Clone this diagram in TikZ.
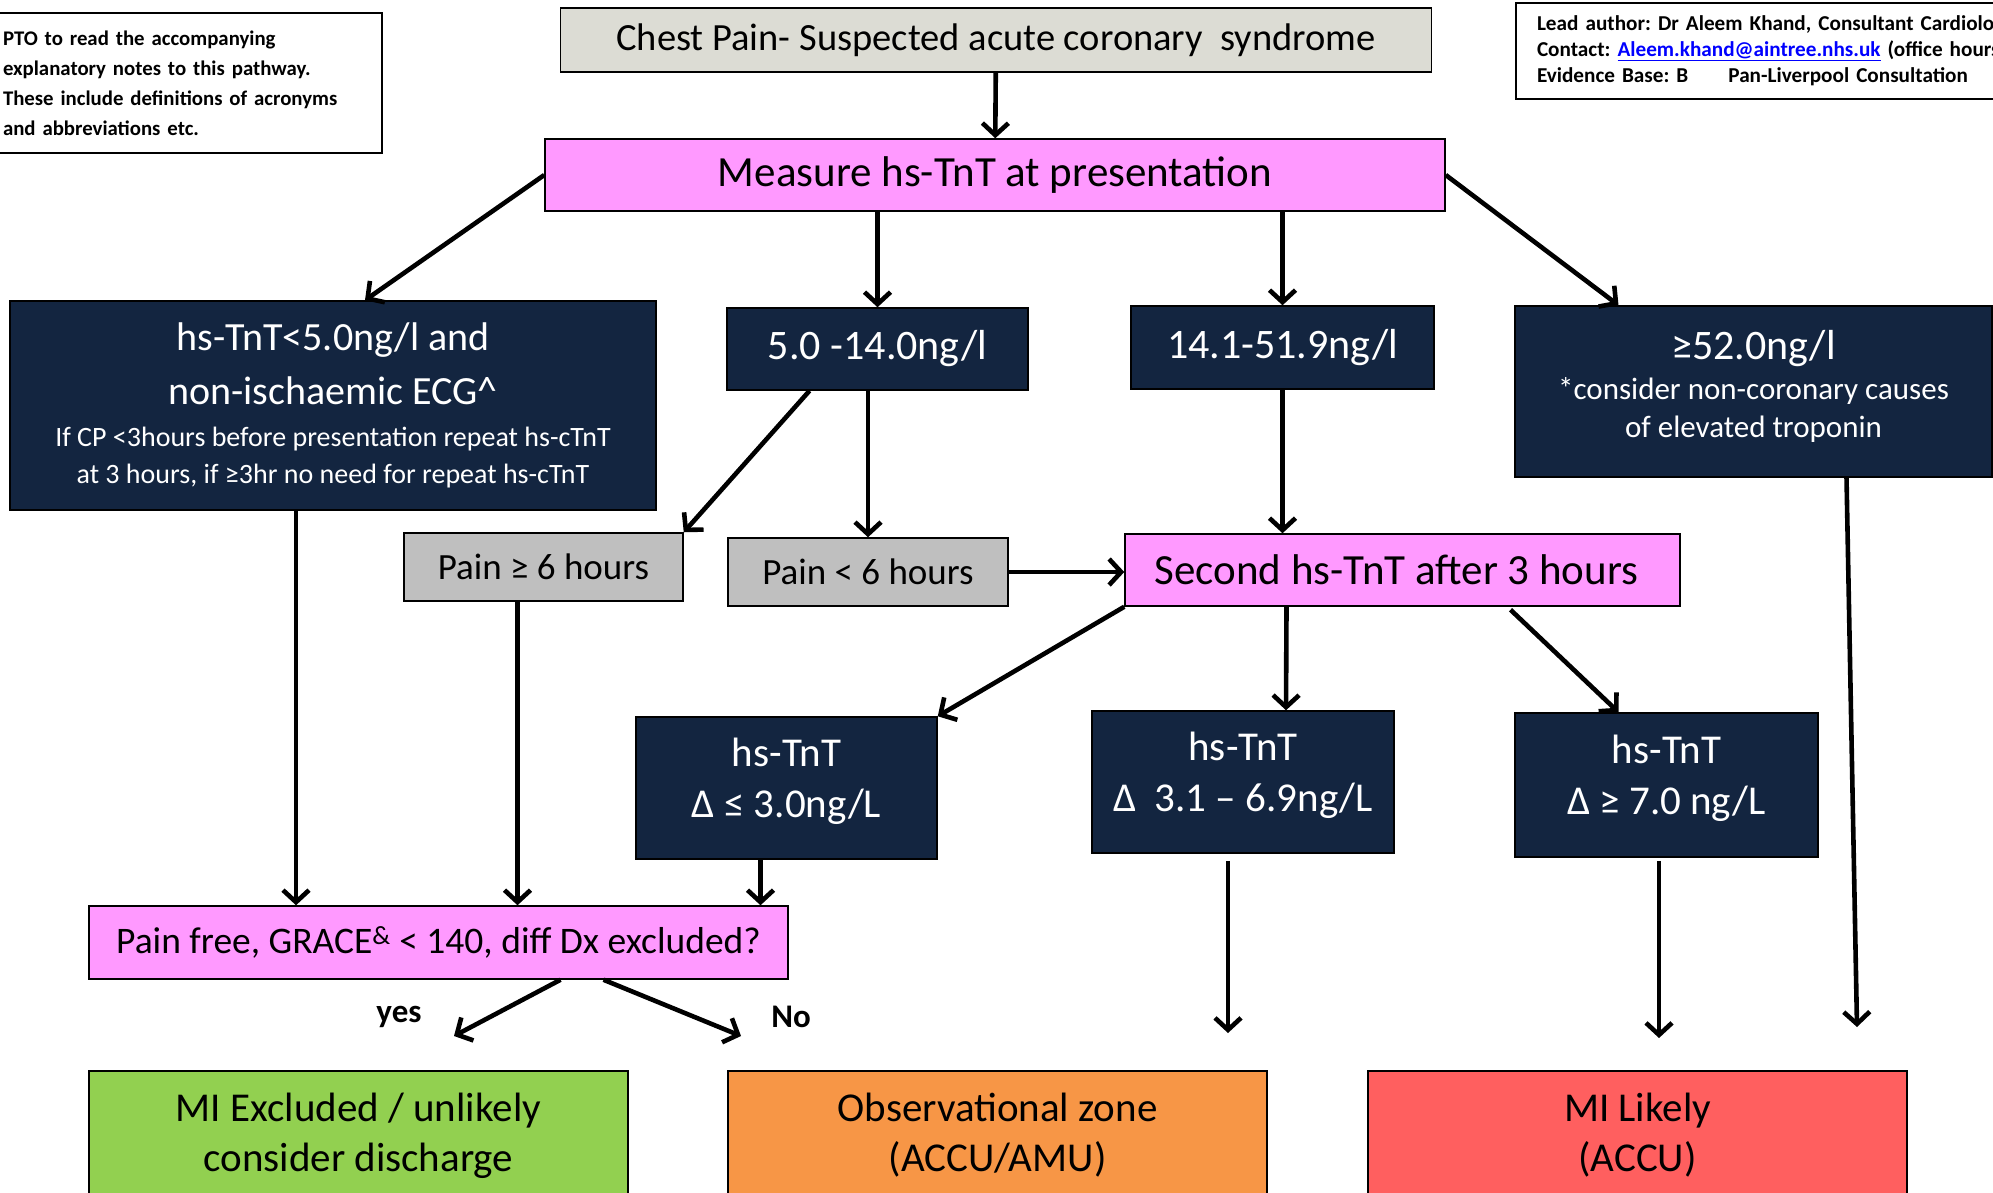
\documentclass[tikz,border=0pt]{standalone}
\usepackage{fontspec}
\setmainfont{Carlito}
\frenchspacing
\usetikzlibrary{calc,arrows.meta}

\definecolor{navy}{HTML}{132540}
\definecolor{pinkbox}{HTML}{FF99FF}
\definecolor{greybox}{HTML}{BFBFBF}
\definecolor{titlegrey}{HTML}{DCDCD4}
\definecolor{greenbox}{HTML}{92D050}
\definecolor{orangebox}{HTML}{F79646}
\definecolor{redbox}{HTML}{FF5F5F}
\newcommand{\fs}[2]{\fontsize{#1}{#2}\selectfont}

\begin{document}
\begin{tikzpicture}[x=1pt, y=-1pt,
  box/.style={draw=black, line width=1.5pt, inner sep=0pt, align=center},
  dark/.style={box, fill=navy, text=white},
  pinkb/.style={box, fill=pinkbox},
  greyb/.style={box, fill=greybox},
  note/.style={draw=black, line width=1.5pt, align=left, inner ysep=0pt},
  arr/.style={line width=4.6pt, -{Straight Barb[length=12pt,width=26pt]}}]

  \useasboundingbox (0,0) rectangle (1993,1192);

  % header boxes
  \node[box, fill=titlegrey, minimum width=871, minimum height=64, font=\fs{38.5}{46}] (title) at (996,40) {Chest Pain- Suspected acute coronary~\ syndrome};
  \node[note, minimum width=384, minimum height=140, text width=374, inner xsep=5, font=\bfseries\fs{20.8}{30}] (pto) at (190,83) {PTO to read the accompanying\\explanatory notes to this pathway.\\These include definitions of acronyms\\and abbreviations etc.};
  \node[note, minimum width=524, minimum height=96, text width=482, inner xsep=21, font=\bfseries\fs{21.2}{26}] (lead) at (1778,51) {Lead author: Dr Aleem Khand, Consultant Cardiolog\\Contact: {\color{blue}\underline{Aleem.khand@aintree.nhs.uk}} (office hours\\Evidence Base: B\hspace{40pt}Pan-Liverpool Consultation};

  \node[pinkb, minimum width=900, minimum height=72, font=\fs{43}{50}] (measure) at (995,175) {Measure hs-TnT at presentation};

  % first troponin bands
  \node[dark, minimum width=646, minimum height=209, font=\fs{40}{54}] (low) at (333,405.5) {\fs{40}{54}hs-TnT<5.0ng/l and\\\fs{40}{54}non-ischaemic ECG\textasciicircum\\[-12pt]\fs{28}{37}If CP <3hours before presentation repeat hs-cTnT\\[-17pt]\fs{28}{37}at 3 hours, if ≥3hr no need for repeat hs-cTnT};
  \node[dark, minimum width=301, minimum height=82, font=\fs{42}{50}] (mid1) at (877.5,349) {5.0 -14.0ng/l};
  \node[dark, minimum width=303, minimum height=83, font=\fs{42}{50}] (mid2) at (1282.5,347.5) {14.1-51.9ng/l};
  \node[dark, minimum width=477, minimum height=171, text depth=16pt, font=\fs{31}{38}] (high) at (1753.5,391.5) {\fs{42}{50}≥52.0ng/l\\[2pt]\fs{31}{38}*consider non-coronary causes\\\fs{31}{38}of elevated troponin};

  \node[greyb, minimum width=279, minimum height=68, font=\fs{37}{44}] (painge6) at (543.5,567) {Pain ≥ 6 hours};
  \node[greyb, minimum width=280, minimum height=68, font=\fs{37}{44}] (painlt6) at (868,572) {Pain < 6 hours};
  \node[pinkb, minimum width=555, minimum height=72, font=\fs{43}{50}] (second) at (1402.5,570) {Second hs-TnT after 3 hours\hspace{12pt}};

  % delta boxes
  \node[dark, minimum width=301, minimum height=142, text depth=20pt, font=\fs{41}{51}] (dlow) at (786.5,788) {hs-TnT\\Δ ≤ 3.0ng/L};
  \node[dark, minimum width=302, minimum height=142, text depth=20pt, font=\fs{41}{51}] (dmid) at (1243,782) {hs-TnT\\Δ~~3.1 – 6.9ng/L};
  \node[dark, minimum width=303, minimum height=144, text depth=20pt, font=\fs{41}{51}] (dhigh) at (1666.5,785) {hs-TnT\\Δ ≥ 7.0 ng/L};

  \node[pinkb, minimum width=699, minimum height=73, font=\fs{37.5}{44}] (painfree) at (438.5,942.5) {Pain free, GRACE\textsuperscript{\&} < 140, diff Dx excluded?};
  \node[font=\bfseries\fs{33}{40}] (yes) at (399,1017) {yes};
  \node[font=\bfseries\fs{33}{40}] (no) at (791,1017) {No};

  % outcomes
  \node[box, fill=greenbox, minimum width=539, minimum height=129, font=\fs{41}{50}] (excl) at (358.5,1135.5) {MI Excluded / unlikely\\consider discharge};
  \node[box, fill=orangebox, minimum width=539, minimum height=129, font=\fs{41}{50}] (obs) at (997.5,1135.5) {Observational zone\\(ACCU/AMU)};
  \node[box, fill=redbox, minimum width=539, minimum height=129, font=\fs{41}{50}] (likely) at (1637.5,1135.5) {MI Likely\\(ACCU)};

  \coordinate (lowout) at ($(low.south)+(-37,0)$);
  \coordinate (ge6out) at ($(painge6.south)+(-26,0)$);
  \coordinate (dlowout) at ($(dlow.south)+(-26,0)$);
  \coordinate (obsin) at (1228,1033);
  \coordinate (likelyin) at (1659,1038);
  \coordinate (highin) at (1857,1027);
  \coordinate (yesend) at (454,1036);
  \coordinate (noend) at (741,1036);

  \draw[arr] (title) -- (measure);
  \draw[arr] (measure.west) -- ($(low.north)+(32,0)$);
  \draw[arr] (measure.south -| mid1.north) -- (mid1.north);
  \draw[arr] (measure.south -| mid2.north) -- (mid2.north);
  \draw[arr] (measure.east) -- ($(high.north)+(-135,0)$);
  \draw[arr] ($(mid1.south)+(-68,0)$) -- (painge6.north east);
  \draw[arr] (mid1.south -| painlt6.north) -- (painlt6.north);
  \draw[arr] (mid2.south) -- (mid2.south |- second.north);
  \draw[arr] (painlt6.east) -- (painlt6.east -| second.west);
  \draw[arr] (second.south west) -- (dlow.north east);
  \draw[arr] ($(second.south)+(-116,0)$) -- ($(dmid.north)+(43,0)$);
  \draw[arr] ($(second.south)+(108,3)$) -- ($(dhigh.north)+(-48,0)$);
  \draw[arr] (lowout) -- (lowout |- painfree.north);
  \draw[arr] (ge6out) -- (ge6out |- painfree.north);
  \draw[arr] (dlowout) -- (dlowout |- painfree.north);
  \draw[arr] (dmid.south -| obsin) ++(0,7) -- (obsin);
  \draw[arr] (dhigh.south -| likelyin) ++(0,3) -- (likelyin);
  \draw[arr] ($(high.south)+(93,0)$) -- (highin);
  \draw[arr] ($(painfree.south)+(122,0)$) -- (yesend);
  \draw[arr] ($(painfree.south)+(165,0)$) -- (noend);
\end{tikzpicture}
\end{document}
